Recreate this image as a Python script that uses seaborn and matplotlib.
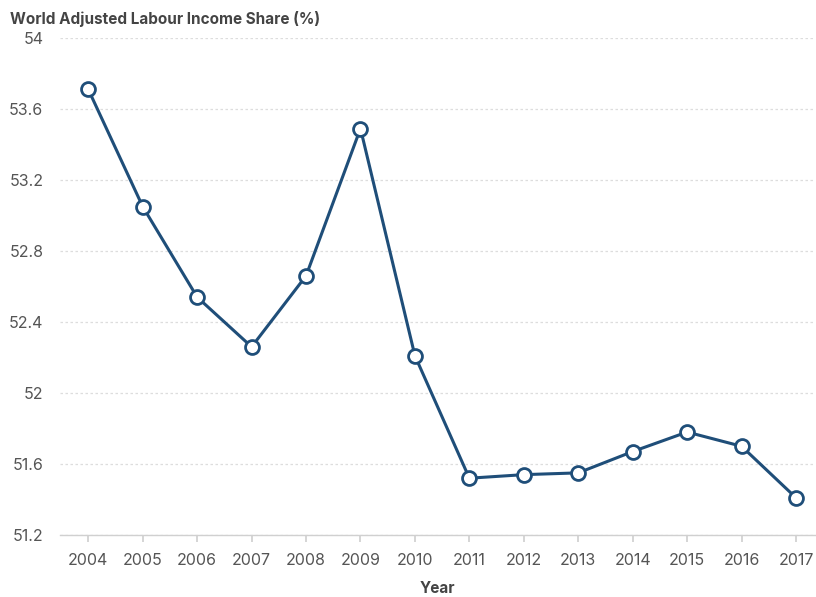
import matplotlib
matplotlib.use("Agg")
import matplotlib.pyplot as plt
import seaborn as sns
import pandas as pd

years = [2004, 2005, 2006, 2007, 2008, 2009, 2010, 2011, 2012, 2013, 2014, 2015, 2016, 2017]
share = [53.71, 53.05, 52.54, 52.26, 52.66, 53.49, 52.21, 51.52, 51.54, 51.55, 51.67, 51.78, 51.70, 51.41]
yticks = [51.2, 51.6, 52.0, 52.4, 52.8, 53.2, 53.6, 54.0]
ytick_labels = ["51.2", "51.6", "52", "52.4", "52.8", "53.2", "53.6", "54"]

sns.set_theme(style="white")
plt.rcParams['font.family'] = ['Inter', 'DejaVu Sans']

df = pd.DataFrame({"Year": [str(y) for y in years], "Share": share})

fig = plt.figure(figsize=(8.16, 5.97), dpi=100)
ax = fig.add_axes([60/816, 1-535/597, (815-60)/816, (535-38)/597])

color = "#1f4e79"
sns.lineplot(data=df, x="Year", y="Share", ax=ax, color=color, linewidth=2.2,
             marker="o", markersize=10, markerfacecolor="white",
             markeredgecolor=color, markeredgewidth=2.0, sort=False)

ax.set_ylim(51.2, 54.0)
ax.set_xlim(-0.52, 13.35)
ax.set_yticks(yticks)
ax.set_yticklabels(ytick_labels)
ax.yaxis.grid(True, linestyle=(0, (2, 2)), color="#dddddd", linewidth=0.9)
ax.xaxis.grid(False)
for s in ["left", "right", "top"]:
    ax.spines[s].set_visible(False)
ax.spines["bottom"].set_color("#d0d0d0")
ax.spines["bottom"].set_linewidth(1.0)
ax.tick_params(axis="x", bottom=True, length=5, color="#d0d0d0", labelsize=11.5, labelcolor="#555555", pad=8)
ax.tick_params(axis="y", left=False, labelsize=11.5, labelcolor="#555555", pad=6)
ax.set_ylabel("")
ax.set_xlabel("Year", fontsize=11, fontweight="bold", color="#444444", labelpad=9)

fig.text(10/816, 1-19/597, "World Adjusted Labour Income Share (%)", fontsize=11,
         fontweight="bold", color="#444444", ha="left", va="center")

fig.savefig("out.png", dpi=100)
